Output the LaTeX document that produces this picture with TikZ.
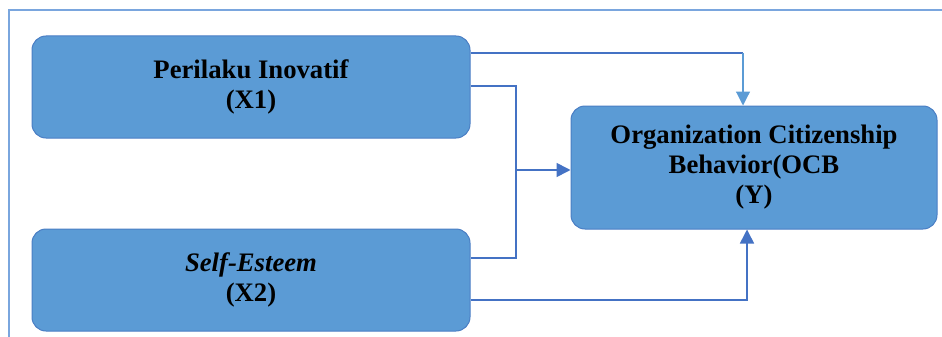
\documentclass[tikz,border=0pt]{standalone}
\usepackage{fontspec}
\setmainfont{Liberation Serif}
\usetikzlibrary{arrows.meta,positioning}
\definecolor{boxfill}{HTML}{5B9BD5}
\definecolor{boxline}{HTML}{4A7EC4}
\definecolor{linkblue}{HTML}{4472C4}
\definecolor{framecol}{HTML}{7AA6DE}
\tikzset{%
  >={Triangle[width=14pt,length=14pt]},
  % Specifications for style of nodes:
            base/.style = {rectangle, rounded corners=14pt, draw=boxline,
                           line width=1pt, fill=boxfill, align=center,
                           font=\bfseries\fontsize{26.7}{30}\selectfont},
        varbox/.style = {base, minimum width=438pt, minimum height=102pt},
        ocbbox/.style = {base, minimum width=366pt, minimum height=123pt},
          link/.style = {draw=linkblue, line width=1.6pt},
      softlink/.style = {draw=boxfill, line width=1.2pt},
}
\begin{document}
\begin{tikzpicture}[x=1pt, y=-1pt]
  \useasboundingbox (0,0) rectangle (942,337);
  % outer frame
  \draw[framecol, line width=1.8pt] (9,337) -- (9,10) -- (942,10);

  % Specification of nodes (position, etc.)
  \node (x1) [varbox] at (251,87) {Perilaku Inovatif\\(X1)};
  \node (x2) [varbox, below=90pt of x1] {\textit{Self-Esteem}\\(X2)};
  \node (y)  [ocbbox] at (754,167.5) {Organization Citizenship\\Behavior(OCB\\(Y)};
  \coordinate (join) at (516,170);
  \coordinate (topbend) at (743,53);

  % Specification of lines between nodes specified above
  \draw[link]        ([yshift=34pt]x1.east) -- (topbend);
  \draw[softlink,->] (topbend) -- (y.north -| topbend);
  \draw[link]        ([yshift=1pt]x1.east) -| (join) |- ([yshift=22pt]x2.east);
  \draw[link,->]     (join) -- (y.west |- join);
  \draw[link,->]     ([yshift=-20pt]x2.east) -| ([xshift=-7pt]y.south);
\end{tikzpicture}
\end{document}
